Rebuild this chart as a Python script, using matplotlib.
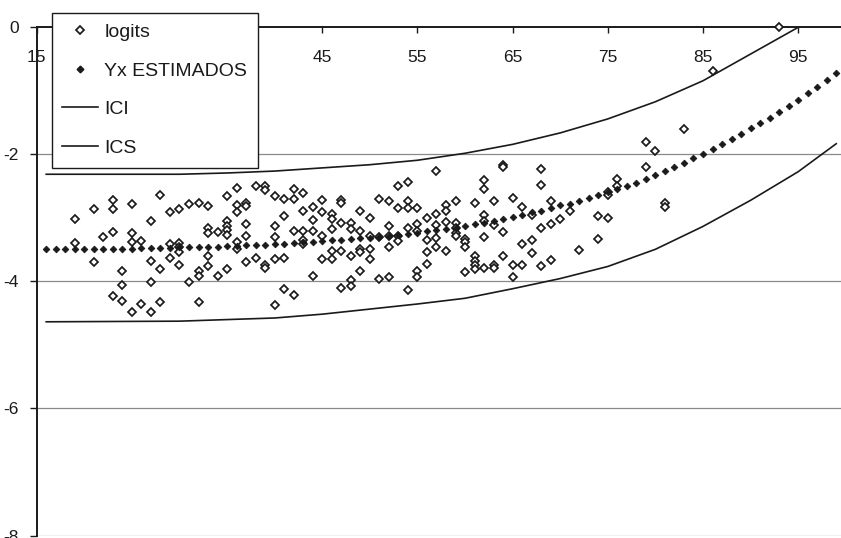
import matplotlib
matplotlib.use("Agg")
import matplotlib.pyplot as plt
from matplotlib.lines import Line2D

plt.rcParams["font.family"] = ["Liberation Sans", "DejaVu Sans"]
plt.rcParams["axes.unicode_minus"] = False

# Observed logits per age
logits_by_age = {
    19: [-3.02, -3.40],
    21: [-2.86, -3.70],
    22: [-3.31],
    23: [-2.73, -2.86, -3.23, -4.23],
    24: [-3.84, -4.06, -4.31],
    25: [-2.78, -3.25, -3.38, -4.48],
    26: [-3.37, -4.36],
    27: [-3.06, -3.68, -4.01, -4.48],
    28: [-2.64, -3.81, -4.33],
    29: [-2.92, -3.42, -3.63],
    30: [-2.86, -3.40, -3.47, -3.55, -3.75],
    31: [-2.78, -4.01],
    32: [-2.77, -3.84, -3.92, -4.33],
    33: [-2.82, -3.17, -3.24, -3.60, -3.77],
    34: [-3.23, -3.92],
    35: [-2.66, -3.05, -3.13, -3.20, -3.27, -3.81],
    36: [-2.54, -2.80, -2.92, -3.39, -3.50],
    37: [-2.77, -2.82, -3.10, -3.29, -3.70],
    38: [-2.50, -3.63],
    39: [-2.50, -2.56, -3.74, -3.80],
    40: [-2.66, -3.13, -3.31, -3.65, -4.38],
    41: [-2.71, -2.98, -3.63, -4.13],
    42: [-2.55, -2.71, -3.22, -4.22],
    43: [-2.61, -2.90, -3.22, -3.35, -3.41],
    44: [-2.83, -3.04, -3.22, -3.92],
    45: [-2.73, -2.92, -3.29, -3.66],
    46: [-2.94, -3.02, -3.18, -3.52, -3.66],
    47: [-2.72, -2.77, -3.08, -3.52, -4.11],
    48: [-3.08, -3.18, -3.61, -3.98, -4.07],
    49: [-2.90, -3.22, -3.50, -3.55, -3.84],
    50: [-3.00, -3.29, -3.49, -3.65],
    51: [-2.71, -3.31, -3.96],
    52: [-2.74, -3.13, -3.29, -3.47, -3.93],
    53: [-2.51, -2.85, -3.29, -3.37],
    54: [-2.44, -2.74, -2.85, -3.17, -4.14],
    55: [-2.85, -3.11, -3.22, -3.84, -3.93],
    56: [-3.00, -3.35, -3.55, -3.73],
    57: [-2.27, -2.95, -3.12, -3.33, -3.47],
    58: [-2.81, -2.90, -3.07, -3.52],
    59: [-2.74, -3.08, -3.16, -3.24, -3.29],
    60: [-3.34, -3.39, -3.46, -3.85],
    61: [-2.77, -3.60, -3.68, -3.75, -3.81],
    62: [-2.41, -2.55, -2.96, -3.05, -3.30, -3.79],
    63: [-2.74, -3.12, -3.75, -3.80],
    64: [-2.18, -2.20, -3.23, -3.60],
    65: [-2.69, -3.75, -3.93],
    66: [-2.84, -3.42, -3.75],
    67: [-2.96, -3.35, -3.56],
    68: [-2.23, -2.49, -3.16, -3.77],
    69: [-2.74, -3.11, -3.67],
    70: [-3.03],
    71: [-2.90],
    72: [-3.51],
    74: [-2.97, -3.34],
    75: [-2.60, -2.65, -3.01],
    76: [-2.40, -2.50],
    79: [-1.81, -2.21],
    80: [-1.96],
    81: [-2.77, -2.84],
    83: [-1.61],
    86: [-0.70],
    93: [0.0],
}

# Fitted values (Yx ESTIMADOS) for ages 16..99
est_ages = list(range(16, 100))
est_values = [
    -3.49, -3.49, -3.49, -3.49, -3.49, -3.49, -3.49, -3.49, -3.49, -3.49,
    -3.48, -3.48, -3.48, -3.48, -3.47, -3.47, -3.47, -3.46, -3.46, -3.45,
    -3.45, -3.44, -3.44, -3.43, -3.42, -3.41, -3.40, -3.39, -3.38, -3.37,
    -3.36, -3.35, -3.34, -3.33, -3.32, -3.30, -3.29, -3.27, -3.26, -3.24,
    -3.22, -3.20, -3.18, -3.16, -3.14, -3.11, -3.08, -3.05, -3.02, -2.99,
    -2.96, -2.92, -2.89, -2.85, -2.81, -2.78, -2.74, -2.69, -2.65, -2.60,
    -2.55, -2.50, -2.45, -2.39, -2.33, -2.27, -2.21, -2.14, -2.07, -2.00,
    -1.92, -1.85, -1.77, -1.68, -1.60, -1.51, -1.43, -1.34, -1.25, -1.15,
    -1.05, -0.95, -0.84, -0.73,
]

# Confidence band limits
ici_ages = [16, 30, 40, 45, 50, 55, 60, 65, 70, 75, 80, 85, 90, 95, 99]
ici_values = [-4.64, -4.63, -4.58, -4.52, -4.44, -4.36, -4.27, -4.12, -3.96,
              -3.77, -3.50, -3.14, -2.73, -2.28, -1.84]
ics_ages = [16, 30, 35, 40, 45, 50, 55, 60, 65, 70, 75, 80, 85, 90, 95, 99]
ics_values = [-2.32, -2.32, -2.30, -2.27, -2.22, -2.17, -2.10, -1.99, -1.85,
              -1.67, -1.45, -1.18, -0.85, -0.43, -0.01, 0.42]

x_ticks = [15, 25, 35, 45, 55, 65, 75, 85, 95]
x_tick_labels = ["15", "", "", "45", "55", "65", "75", "85", "95"]
y_ticks = [0, -2, -4, -6, -8]
legend_labels = ["logits", "Yx ESTIMADOS", "ICI", "ICS"]

ink = "#1a1a1a"

fig = plt.figure(figsize=(8.41, 5.38), dpi=100)
ax = fig.add_axes([36.7 / 841, 2.5 / 538, 1 - 36.7 / 841, 1 - 29.2 / 538])

ax.set_xlim(15, 99.5)
ax.set_ylim(-8, 0)

for yv in [-2, -4, -6, -8]:
    ax.axhline(yv, color="#8a8a8a", lw=0.9, zorder=1)

lx = [a for a, vals in logits_by_age.items() for _ in vals]
ly = [v for vals in logits_by_age.values() for v in vals]
ax.plot(lx, ly, ls="none", marker="D", ms=3.6, mfc="white", mec=ink,
        mew=1.25, zorder=4, clip_on=False)
ax.plot(est_ages, est_values, ls="none", marker="D", ms=3.4, mfc=ink,
        mec=ink, mew=0.6, zorder=5)
ax.plot(ici_ages, ici_values, color=ink, lw=1.2, zorder=3)
ax.plot(ics_ages, ics_values, color=ink, lw=1.2, zorder=3)

# x axis crossing at y = 0, Excel style
ax.spines["bottom"].set_position(("data", 0))
ax.spines["top"].set_visible(False)
ax.spines["right"].set_visible(False)
ax.spines["bottom"].set_color(ink)
ax.spines["left"].set_color(ink)
ax.spines["bottom"].set_linewidth(1.4)
ax.spines["left"].set_linewidth(1.4)
ax.spines["bottom"].set_zorder(2)

ax.set_xticks(x_ticks)
ax.set_xticklabels(x_tick_labels)
ax.set_yticks(y_ticks)
ax.set_yticklabels([str(v) for v in y_ticks])
ax.tick_params(axis="x", direction="out", length=4, width=1.0, pad=13,
               labelsize=12.5, colors=ink)
ax.tick_params(axis="y", direction="out", length=5, width=1.0, pad=8,
               labelsize=12.5, colors=ink)

handles = [
    Line2D([], [], ls="none", marker="D", ms=3.6, mfc="white", mec=ink, mew=1.25),
    Line2D([], [], ls="none", marker="D", ms=3.4, mfc=ink, mec=ink),
    Line2D([], [], color=ink, lw=1.2),
    Line2D([], [], color=ink, lw=1.2),
]
leg = ax.legend(handles, legend_labels,
                loc="upper left", bbox_to_anchor=(51.7 / 841, 1 - 12.7 / 538),
                bbox_transform=fig.transFigure, frameon=True, fancybox=False,
                shadow=False, fontsize=14, handlelength=1.85, handletextpad=0.3,
                labelspacing=1.08, borderpad=0.55, borderaxespad=0,
                framealpha=1)
leg.get_frame().set_edgecolor(ink)
leg.get_frame().set_linewidth(1.0)
leg.set_zorder(10)
for t in leg.get_texts():
    t.set_color(ink)

fig.savefig("out.png", dpi=100)
